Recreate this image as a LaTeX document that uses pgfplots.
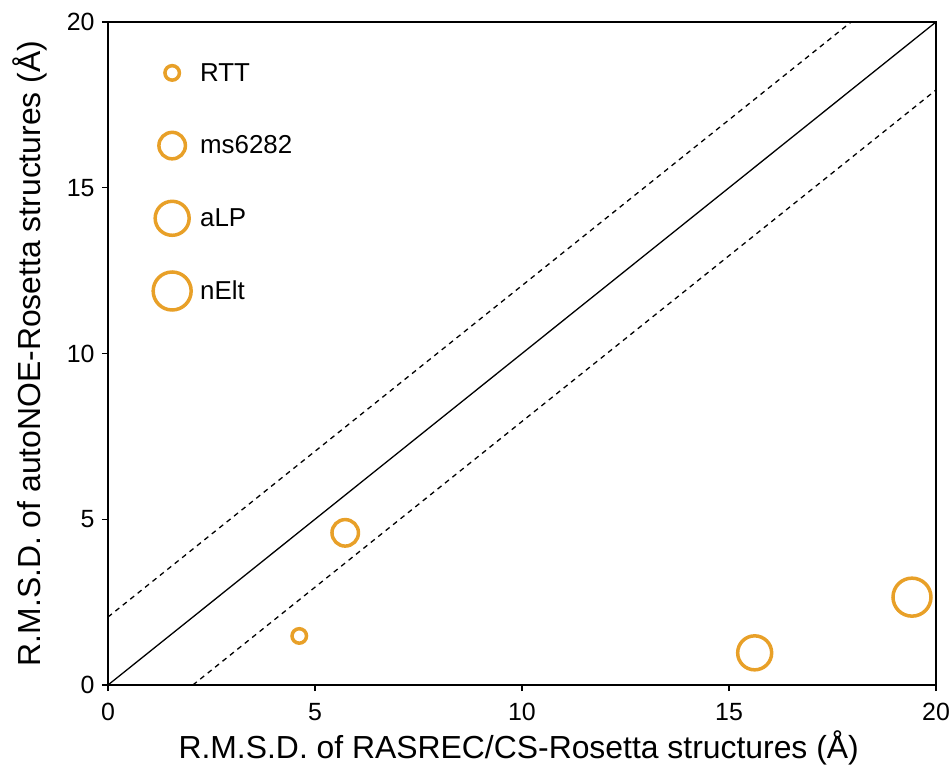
\documentclass[border=0pt]{standalone}
\usepackage{pgfplots}
\pgfplotsset{compat=1.18}
\usepackage{fontspec}
\setmainfont{Liberation Sans}
\definecolor{orng}{RGB}{232,160,40}

\pgfplotsset{
  ring/.style={only marks, mark=o,
    mark options={line width=3.5bp, draw=orng},
    legend image code/.code={%
      \path[draw=none, fill=none, use as bounding box] (-21bp,-21bp) rectangle (21bp,21bp);
      \draw[##1] plot coordinates {(0cm,0cm)};}},
}

\begin{document}
\begin{tikzpicture}
\useasboundingbox (-108bp,-86bp) rectangle (844bp,685bp);
\begin{axis}[
  scale only axis,
  width=828bp, height=663bp,
  xmin=0, xmax=20, ymin=0, ymax=20,
  xtick={0,5,10,15,20}, ytick={0,5,10,15,20},
  tick align=outside, xtick pos=left, ytick pos=left,
  major tick length=6bp,
  axis line style={line width=1.4bp},
  tick style={line width=1.4bp, black},
  /pgf/number format/assume math mode=true,
  ticklabel style={font=\fontsize{25}{30}\selectfont},
  x tick label style={yshift=-9bp},
  y tick label style={xshift=-4bp},
  xlabel={R.M.S.D. of RASREC/CS-Rosetta structures (Å)},
  ylabel={R.M.S.D. of autoNOE-Rosetta structures (Å)},
  label style={font=\fontsize{32}{36}\selectfont},
  x label style={at={(axis description cs:0.496,-0.095)}, anchor=center},
  y label style={at={(axis description cs:-0.094,0.5)}, anchor=center},
  legend style={draw=none, fill=none, inner sep=0pt,
    nodes={inner sep=0pt, draw=none},
    at={(axis description cs:0.0519,0.9552)},
    anchor=north west, font=\fontsize{26}{30}\selectfont,
    row sep=30.7bp, column sep=7bp},
  legend cell align=left,
  clip=false,
]
% reference diagonal and +/- 2 A bands
\addplot[black, line width=1.3bp, forget plot] coordinates {(0,0) (20,20)};
\addplot[black, line width=1.3bp, dash pattern=on 5bp off 4.5bp, forget plot]
  coordinates {(0,2.05) (17.95,20)};
\addplot[black, line width=1.3bp, dash pattern=on 5bp off 4.5bp, forget plot]
  coordinates {(2.05,0) (20,17.95)};

\addplot[ring, mark size=7.25bp] coordinates {(4.62,1.48)};
\addlegendentry{RTT}
\addplot[ring, mark size=13.25bp] coordinates {(5.73,4.59)};
\addlegendentry{ms6282}
\addplot[ring, mark size=17bp] coordinates {(15.62,0.97)};
\addlegendentry{aLP}
\addplot[ring, mark size=19bp] coordinates {(19.42,2.65)};
\addlegendentry{nElt}
\end{axis}
\end{tikzpicture}
\end{document}
